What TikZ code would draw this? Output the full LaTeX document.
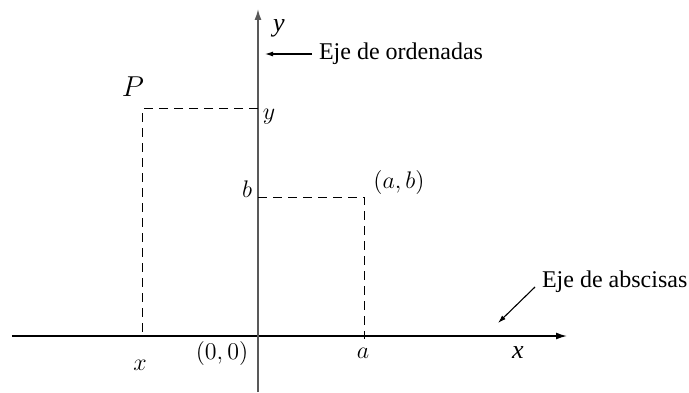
\documentclass[tikz,border=0pt]{standalone}
\usepackage{fontspec}
\setmainfont{Liberation Serif}
\newfontfamily\axisfont{Liberation Serif Italic}
\usetikzlibrary{arrows.meta}

\begin{document}
\begin{tikzpicture}[x=0.5pt, y=0.5pt,
    axis/.style={line width=0.75pt, -{Latex[length=5.5pt,width=3.5pt]}},
    guide/.style={dash pattern=on 4.5pt off 3pt, line width=0.5pt},
    pointer/.style={line width=0.55pt, -{Latex[length=4pt,width=2.5pt]}},
    mlabel/.style={font=\fontsize{12}{14}\selectfont, inner sep=0pt, anchor=base},
    tlabel/.style={font=\fontsize{12}{14}\selectfont, anchor=base west}]
    \useasboundingbox (-258,-56) rectangle (431,336);

    % Axes
    \draw[axis] (-246,0) -- (309,0);
    \draw[axis, black!65] (0,-56) -- (0,327);

    % Guides
    \draw[guide] (0,228) -- (-115,228) -- (-115,0);
    \draw[guide] (0,139) -- (106,139) -- (106,-3);

    % Labels
    \node[mlabel, font=\fontsize{13}{15}\axisfont] (xend) at (260,-22) {x};
    \node[mlabel, font=\fontsize{13}{15}\axisfont] (yend) at (21,305) {y};
    \node[mlabel] (origin) at (-36,-23) {$(0,0)$};
    \node[mlabel] (xval) at (-118,-34) {$x$};
    \node[mlabel] (aval) at (105,-22) {$a$};
    \node[mlabel] (bval) at (-11,139) {$b$};
    \node[mlabel] (yval) at (11,217) {$y$};
    \node[mlabel] (ab) at (141,148) {$(a,b)$};
    \node[mlabel, font=\fontsize{14}{16}\selectfont] (P) at (-125,240) {$P$};

    % Notes
    \node[tlabel] (ord) at (54,277) {Eje de ordenadas};
    \node[tlabel] (abs) at (277,49) {Eje de abscisas};
    \coordinate (ordtip) at (7,282);
    \coordinate (abstip) at (240,13);

    \draw[pointer] (ordtip -| ord.west) -- (ordtip);
    \draw[pointer] (abs.base west) -- (abstip);
\end{tikzpicture}
\end{document}
